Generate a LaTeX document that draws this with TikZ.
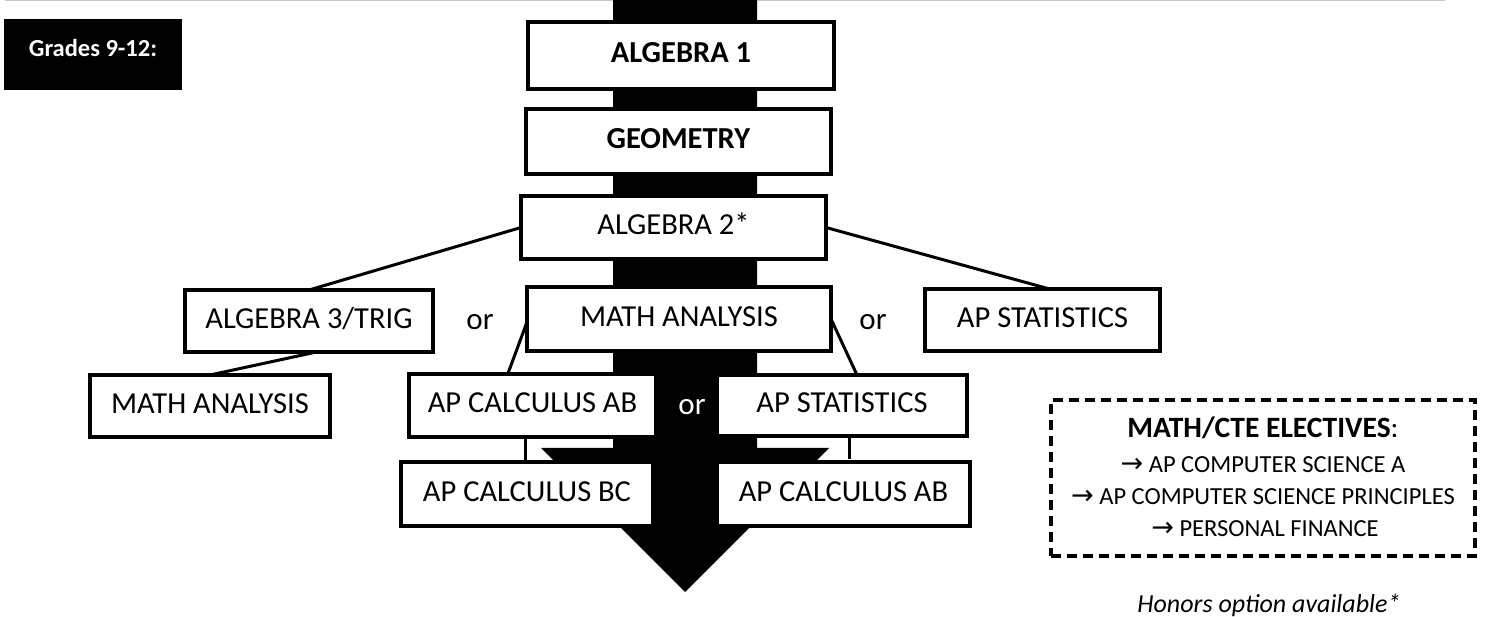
\documentclass[tikz,border=0pt]{standalone}
\usepackage{fontspec}
\setmainfont{Carlito}
\newfontfamily\symfont{DejaVu Sans}
\usetikzlibrary{calc}
\pgfdeclarelayer{bg}
\pgfsetlayers{bg,main}
\begin{document}
\begin{tikzpicture}[x=1pt,y=-1pt,
  box/.style={draw=black, fill=white, line width=4pt, rectangle, inner sep=0pt, outer sep=0pt,
    font=\fontsize{30.5}{35}\selectfont, text height=20pt, text depth=5pt},
  conn/.style={draw=black, line width=3pt},
  ortext/.style={font=\fontsize{31}{35}\selectfont, inner sep=0pt},
  eltext/.style={anchor=base, inner sep=0pt, font=\fontsize{24.5}{28}\selectfont},
]
\useasboundingbox (0,0) rectangle (1492,617);

% grade label
\node[fill=black, minimum width=178pt, minimum height=71pt, inner sep=0pt, text=white,
  font=\fontsize{24.5}{28}\selectfont\bfseries, text height=16pt, text depth=11pt]
  (grades) at (93,54.5) {Grades 9-12:};

% course boxes
\node[box, minimum width=306pt, minimum height=67pt] (alg1) at (681,55.5) {\textbf{ALGEBRA 1}};
\node[box, minimum width=305pt, minimum height=65pt] (geom) at (678.5,141.5) {\textbf{GEOMETRY}};
\node[box, minimum width=305pt, minimum height=63pt] (alg2) at (673.5,227.5) {ALGEBRA 2*};
\node[box, minimum width=304pt, minimum height=64pt] (maC) at (679,319) {MATH ANALYSIS};
\node[box, minimum width=248pt, minimum height=62pt] (alg3) at (309,321) {ALGEBRA 3/TRIG};
\node[box, minimum width=235pt, minimum height=62pt] (apstatR) at (1042.5,320) {AP STATISTICS};
\node[box, minimum width=240pt, minimum height=62pt] (maL) at (210,406) {MATH ANALYSIS};
\node[box, minimum width=247pt, minimum height=63pt] (apcabU) at (532.5,405.5) {AP CALCULUS AB};
\node[box, minimum width=250pt, minimum height=61pt] (apstatL) at (842,405.5) {AP STATISTICS};
\node[box, minimum width=252pt, minimum height=64pt] (apcbc) at (527,494) {AP CALCULUS BC};
\node[box, minimum width=253pt, minimum height=64pt] (apcabL) at (843.5,494) {AP CALCULUS AB};

% "or" labels
\node[ortext] (or1) at (480,322) {or};
\node[ortext] (or2) at (873,322) {or};
\node[ortext, text=white] (or3) at (692,407) {or};

% electives
\node[draw=black, line width=4pt, dash pattern=on 10pt off 6pt, minimum width=424pt, minimum height=156pt,
  inner sep=0pt] (elect) at (1263,478) {};
\node[anchor=base, inner sep=0pt, font=\fontsize{29.5}{33}\selectfont] (elh) at (1263,438) {\textbf{MATH/CTE ELECTIVES}:};
\node[eltext] (el1) at (1263,473) {{\symfont\fontsize{27}{28}\selectfont →} AP COMPUTER SCIENCE A};
\node[eltext] (el2) at (1263,504) {{\symfont\fontsize{27}{28}\selectfont →} AP COMPUTER SCIENCE PRINCIPLES};
\node[eltext] (el3) at (1265,536) {{\symfont\fontsize{27}{28}\selectfont →} PERSONAL FINANCE};

\node[anchor=base, inner sep=0pt, font=\fontsize{26}{30}\selectfont\itshape] (hon) at (1269,612) {Honors option available*};

\begin{pgfonlayer}{bg}
  \draw[color=black!22, line width=1.5pt] (5,0.75) -- (1445,0.75);
  \fill[black] (613,0) -- (757,0) -- (757,448) -- (829,448) -- (685,592) -- (541,448) -- (613,448) -- cycle;
  \draw[conn] (alg2.west) -- ($(alg3.north west)!0.5!(alg3.north east)$);
  \draw[conn] (alg2.east) -- ($(apstatR.north west)!0.53!(apstatR.north east)$);
  \draw[conn] ($(alg3.south west)!0.53!(alg3.south east)$) -- (maL.north);
  \draw[conn] ($(maC.west)+(0,3)$) -- ($(apcabU.north west)!0.4!(apcabU.north east)$);
  \draw[conn] (maC.east) -- ($(apstatL.north west)!0.56!(apstatL.north east)$);
  \draw[conn] ($(apcabU.south west)!0.47!(apcabU.south east)$) coordinate (c1) -- (c1 |- apcbc.north);
  \draw[conn] ($(apstatL.south west)!0.53!(apstatL.south east)$) coordinate (c2) -- ($(c2 |- apcabL.north)+(0,-3)$);
\end{pgfonlayer}
\end{tikzpicture}
\end{document}
